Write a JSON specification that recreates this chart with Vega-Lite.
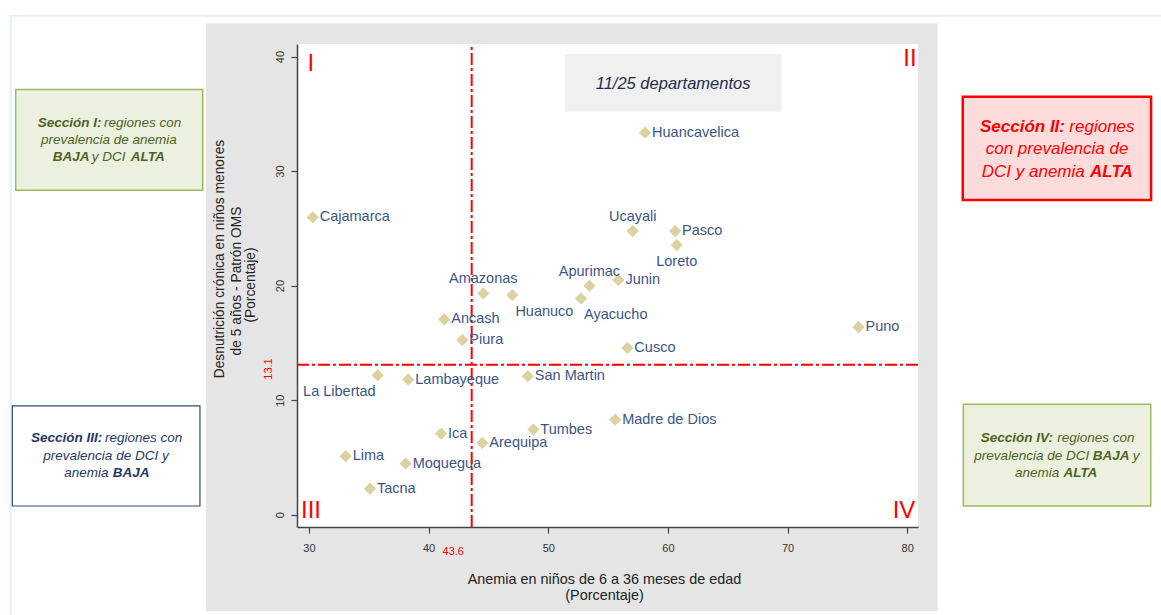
{
  "$schema": "https://vega.github.io/schema/vega-lite/v6.json",
  "width": 621,
  "height": 483,
  "autosize": {"type": "none"},
  "padding": {"left": 297, "top": 44, "right": 243, "bottom": 88},
  "background": "white",
  "config": {"view": {"stroke": null}, "font": "Liberation Sans"},
  "datasets": {
    "deptos": [
      {"name": "Cajamarca", "x": 30.31, "y": 25.96, "pos": "r"},
      {"name": "Huancavelica", "x": 58.09, "y": 33.36, "pos": "r"},
      {"name": "Ucayali", "x": 57.06, "y": 24.76, "pos": "t"},
      {"name": "Pasco", "x": 60.6, "y": 24.76, "pos": "r"},
      {"name": "Loreto", "x": 60.74, "y": 23.54, "pos": "b"},
      {"name": "Amazonas", "x": 44.57, "y": 19.32, "pos": "t"},
      {"name": "Huanuco", "x": 47.0, "y": 19.17, "pos": "br"},
      {"name": "Apurimac", "x": 53.44, "y": 19.98, "pos": "t"},
      {"name": "Ayacucho", "x": 52.74, "y": 18.88, "pos": "br"},
      {"name": "Junin", "x": 55.86, "y": 20.48, "pos": "r"},
      {"name": "Ancash", "x": 41.31, "y": 17.05, "pos": "r"},
      {"name": "Piura", "x": 42.82, "y": 15.24, "pos": "r"},
      {"name": "Cusco", "x": 56.61, "y": 14.56, "pos": "r"},
      {"name": "Puno", "x": 75.93, "y": 16.37, "pos": "r"},
      {"name": "La Libertad", "x": 35.74, "y": 12.18, "pos": "bl"},
      {"name": "Lambayeque", "x": 38.3, "y": 11.8, "pos": "r"},
      {"name": "San Martin", "x": 48.29, "y": 12.09, "pos": "r"},
      {"name": "Madre de Dios", "x": 55.59, "y": 8.3, "pos": "r"},
      {"name": "Ica", "x": 41.04, "y": 7.08, "pos": "r"},
      {"name": "Arequipa", "x": 44.49, "y": 6.26, "pos": "r"},
      {"name": "Tumbes", "x": 48.75, "y": 7.43, "pos": "r"},
      {"name": "Lima", "x": 33.07, "y": 5.1, "pos": "r"},
      {"name": "Moquegua", "x": 38.08, "y": 4.46, "pos": "r"},
      {"name": "Tacna", "x": 35.1, "y": 2.27, "pos": "r"}
    ],
    "smallBold": [
      {"sec": "I", "x": 7.33, "y": 34.2, "t": "Sección I:"},
      {"sec": "I", "x": 8.58, "y": 31.19, "t": "BAJA"},
      {"sec": "I", "x": 15.1, "y": 31.19, "t": "ALTA"},
      {"sec": "III", "x": 6.77, "y": 6.69, "t": "Sección III:"},
      {"sec": "III", "x": 13.6, "y": 3.64, "t": "BAJA"},
      {"sec": "IV", "x": 86.14, "y": 6.69, "t": "Sección IV:"},
      {"sec": "IV", "x": 95.5, "y": 5.12, "t": "BAJA"},
      {"sec": "IV", "x": 93.05, "y": 3.64, "t": "ALTA"}
    ],
    "smallReg": [
      {"sec": "I", "x": 12.87, "y": 34.2, "t": "regiones con"},
      {"sec": "I", "x": 7.6, "y": 32.72, "t": "prevalencia de anemia"},
      {"sec": "I", "x": 11.84, "y": 31.19, "t": "y DCI"},
      {"sec": "III", "x": 12.95, "y": 6.69, "t": "regiones con"},
      {"sec": "III", "x": 7.8, "y": 5.12, "t": "prevalencia de DCI y"},
      {"sec": "III", "x": 9.55, "y": 3.64, "t": "anemia"},
      {"sec": "IV", "x": 92.54, "y": 6.69, "t": "regiones con"},
      {"sec": "IV", "x": 85.61, "y": 5.12, "t": "prevalencia de DCI"},
      {"sec": "IV", "x": 98.85, "y": 5.12, "t": "y"},
      {"sec": "IV", "x": 89.01, "y": 3.64, "t": "anemia"}
    ]
  },
  "encoding": {
    "x": {
      "field": "x",
      "type": "quantitative",
      "scale": {"domain": [29, 80.9], "nice": false, "zero": false},
      "axis": {
        "values": [30, 40, 50, 60, 70, 80],
        "grid": false,
        "zindex": 1,
        "domainColor": "#444444",
        "domainWidth": 1.5,
        "tickColor": "#444444",
        "tickWidth": 1.2,
        "tickSize": 6,
        "labelFont": "Liberation Sans",
        "labelFontSize": 11,
        "labelColor": "#333333",
        "labelPadding": 9,
        "labelBaseline": "top",
        "title": ["Anemia en niños de 6 a 36 meses de edad", "(Porcentaje)"],
        "titleFont": "Liberation Sans",
        "titleFontSize": 14.4,
        "titleFontWeight": "normal",
        "titleColor": "#222222",
        "titleX": 307,
        "titleY": 45,
        "titleBaseline": "top",
        "titleAlign": "center",
        "titleLineHeight": 16
      }
    },
    "y": {
      "field": "y",
      "type": "quantitative",
      "scale": {"domain": [-1.08, 41.1], "nice": false, "zero": false},
      "axis": {
        "values": [0, 10, 20, 30, 40],
        "grid": false,
        "zindex": 1,
        "domainColor": "#444444",
        "domainWidth": 1.5,
        "tickColor": "#444444",
        "tickWidth": 1.2,
        "tickSize": 6,
        "labelFont": "Liberation Sans",
        "labelFontSize": 11,
        "labelColor": "#333333",
        "labelAngle": 270,
        "labelAlign": "center",
        "labelBaseline": "bottom",
        "labelPadding": 6,
        "title": null
      }
    }
  },
  "layer": [
    {
      "data": {"values": [{"x": 5.07, "x2": 102, "y": 43.57, "y2": -9.5}]},
      "mark": {"type": "rect", "fill": "white", "stroke": "#e3f0f3", "strokeWidth": 2},
      "encoding": {"x2": {"field": "x2"}, "y2": {"field": "y2"}}
    },
    {
      "data": {"values": [{"x": 21.395, "x2": 82.55, "y": 42.91, "y2": -8.42}]},
      "mark": {"type": "rect", "fill": "#e5e5e5"},
      "encoding": {"x2": {"field": "x2"}, "y2": {"field": "y2"}}
    },
    {
      "data": {"values": [{"x": 29, "x2": 80.9, "y": -1.08, "y2": 41.1}]},
      "mark": {"type": "rect", "fill": "white"},
      "encoding": {"x2": {"field": "x2"}, "y2": {"field": "y2"}}
    },
    {
      "data": {"values": [{"x": 51.4, "x2": 69.51, "y": 40.23, "y2": 35.19}]},
      "mark": {"type": "rect", "fill": "#f0f0f0"},
      "encoding": {"x2": {"field": "x2"}, "y2": {"field": "y2"}}
    },
    {
      "data": {"values": [{"x": 5.49, "x2": 21.12, "y": 37.13, "y2": 28.33}]},
      "mark": {"type": "rect", "fill": "#ebf1de", "stroke": "#9bbb59", "strokeWidth": 1.5},
      "encoding": {"x2": {"field": "x2"}, "y2": {"field": "y2"}}
    },
    {
      "data": {"values": [{"x": 5.21, "x2": 20.89, "y": 9.49, "y2": 0.754}]},
      "mark": {"type": "rect", "fill": "white", "stroke": "#2f4b7c", "strokeWidth": 1.2},
      "encoding": {"x2": {"field": "x2"}, "y2": {"field": "y2"}}
    },
    {
      "data": {"values": [{"x": 84.64, "x2": 100.38, "y": 36.5, "y2": 27.48}]},
      "mark": {"type": "rect", "fill": "#ffdcdc", "stroke": "#ff0000", "strokeWidth": 2.5},
      "encoding": {"x2": {"field": "x2"}, "y2": {"field": "y2"}}
    },
    {
      "data": {"values": [{"x": 84.69, "x2": 100.35, "y": 9.635, "y2": 0.754}]},
      "mark": {"type": "rect", "fill": "#ebf1de", "stroke": "#9bbb59", "strokeWidth": 1.5},
      "encoding": {"x2": {"field": "x2"}, "y2": {"field": "y2"}}
    },
    {
      "data": {"values": [{"x": 43.6, "y": -1.08, "y2": 41.1}]},
      "mark": {"type": "rule", "color": "#ff0000", "strokeWidth": 2, "strokeDash": [12, 3, 3, 3]},
      "encoding": {"y2": {"field": "y2"}}
    },
    {
      "data": {"values": [{"x": 29, "x2": 80.9, "y": 13.1}]},
      "mark": {"type": "rule", "color": "#ff0000", "strokeWidth": 2, "strokeDash": [12, 3, 3, 3]},
      "encoding": {"x2": {"field": "x2"}}
    },
    {
      "data": {"name": "deptos"},
      "mark": {"type": "point", "shape": "diamond", "filled": true, "size": 150, "color": "#dcd1a0", "opacity": 1}
    },
    {
      "data": {"name": "deptos"},
      "transform": [{"filter": "datum.pos === 'r'"}],
      "mark": {"type": "text", "align": "left", "baseline": "middle", "dx": 7, "fontSize": 14.5, "color": "#3b5686"},
      "encoding": {"text": {"field": "name"}}
    },
    {
      "data": {"name": "deptos"},
      "transform": [{"filter": "datum.pos === 't'"}],
      "mark": {"type": "text", "align": "center", "baseline": "middle", "dy": -14, "fontSize": 14.5, "color": "#3b5686"},
      "encoding": {"text": {"field": "name"}}
    },
    {
      "data": {"name": "deptos"},
      "transform": [{"filter": "datum.pos === 'b'"}],
      "mark": {"type": "text", "align": "center", "baseline": "middle", "dy": 16.5, "fontSize": 14.5, "color": "#3b5686"},
      "encoding": {"text": {"field": "name"}}
    },
    {
      "data": {"name": "deptos"},
      "transform": [{"filter": "datum.pos === 'br'"}],
      "mark": {"type": "text", "align": "left", "baseline": "middle", "dx": 3, "dy": 16.5, "fontSize": 14.5, "color": "#3b5686"},
      "encoding": {"text": {"field": "name"}}
    },
    {
      "data": {"name": "deptos"},
      "transform": [{"filter": "datum.pos === 'bl'"}],
      "mark": {"type": "text", "align": "right", "baseline": "middle", "dx": -2, "dy": 16.5, "fontSize": 14.5, "color": "#3b5686"},
      "encoding": {"text": {"field": "name"}}
    },
    {
      "data": {"values": [
        {"x": 30.15, "y": 39.38, "t": "I"},
        {"x": 80.23, "y": 39.79, "t": "II"},
        {"x": 30.17, "y": 0.36, "t": "III"},
        {"x": 79.73, "y": 0.32, "t": "IV"}
      ]},
      "mark": {"type": "text", "align": "center", "baseline": "middle", "fontSize": 24, "color": "#ff0000"},
      "encoding": {"text": {"field": "t"}}
    },
    {
      "data": {"values": [{"x": 26.66, "y": 12.72, "t": "13.1"}]},
      "mark": {"type": "text", "align": "center", "baseline": "middle", "angle": 270, "fontSize": 11, "color": "#ff0000"},
      "encoding": {"text": {"field": "t"}}
    },
    {
      "data": {"values": [{"x": 42.06, "y": -3.24, "t": "43.6"}]},
      "mark": {"type": "text", "align": "center", "baseline": "middle", "fontSize": 11, "color": "#ff0000"},
      "encoding": {"text": {"field": "t"}}
    },
    {
      "data": {"values": [{"x": 60.43, "y": 37.61, "t": "11/25 departamentos"}]},
      "mark": {"type": "text", "align": "center", "baseline": "middle", "fontSize": 16.5, "fontStyle": "italic", "color": "#1f2d4d"},
      "encoding": {"text": {"field": "t"}}
    },
    {
      "data": {"values": [
        {"x": 22.565, "y": 22.32, "t": "Desnutrición crónica en niños menores"},
        {"x": 23.944, "y": 20.4, "t": "de 5 años - Patrón OMS"},
        {"x": 25.197, "y": 20.05, "t": "(Porcentaje)"}
      ]},
      "mark": {"type": "text", "align": "center", "baseline": "middle", "angle": 270, "fontSize": 13.8, "color": "#222222"},
      "encoding": {"text": {"field": "t"}}
    },
    {
      "data": {"name": "smallBold"},
      "mark": {"type": "text", "align": "left", "baseline": "middle", "fontSize": 13.5, "fontStyle": "italic", "fontWeight": "bold"},
      "encoding": {
        "text": {"field": "t"},
        "color": {"field": "sec", "type": "nominal", "scale": {"domain": ["I", "III", "IV"], "range": ["#4f6228", "#1f3864", "#4f6228"]}, "legend": null}
      }
    },
    {
      "data": {"name": "smallReg"},
      "mark": {"type": "text", "align": "left", "baseline": "middle", "fontSize": 13.5, "fontStyle": "italic"},
      "encoding": {
        "text": {"field": "t"},
        "color": {"field": "sec", "type": "nominal", "scale": {"domain": ["I", "III", "IV"], "range": ["#4f6228", "#1f3864", "#4f6228"]}, "legend": null}
      }
    },
    {
      "data": {"values": [
        {"x": 86.08, "y": 33.88, "t": "Sección II:"},
        {"x": 95.28, "y": 29.95, "t": "ALTA"}
      ]},
      "mark": {"type": "text", "align": "left", "baseline": "middle", "fontSize": 17, "fontStyle": "italic", "fontWeight": "bold", "color": "#ff0000"},
      "encoding": {"text": {"field": "t"}}
    },
    {
      "data": {"values": [
        {"x": 93.55, "y": 33.88, "t": "regiones"},
        {"x": 86.56, "y": 31.9, "t": "con prevalencia de"},
        {"x": 86.23, "y": 29.95, "t": "DCI y anemia"}
      ]},
      "mark": {"type": "text", "align": "left", "baseline": "middle", "fontSize": 17, "fontStyle": "italic", "color": "#ff0000"},
      "encoding": {"text": {"field": "t"}}
    }
  ]
}
